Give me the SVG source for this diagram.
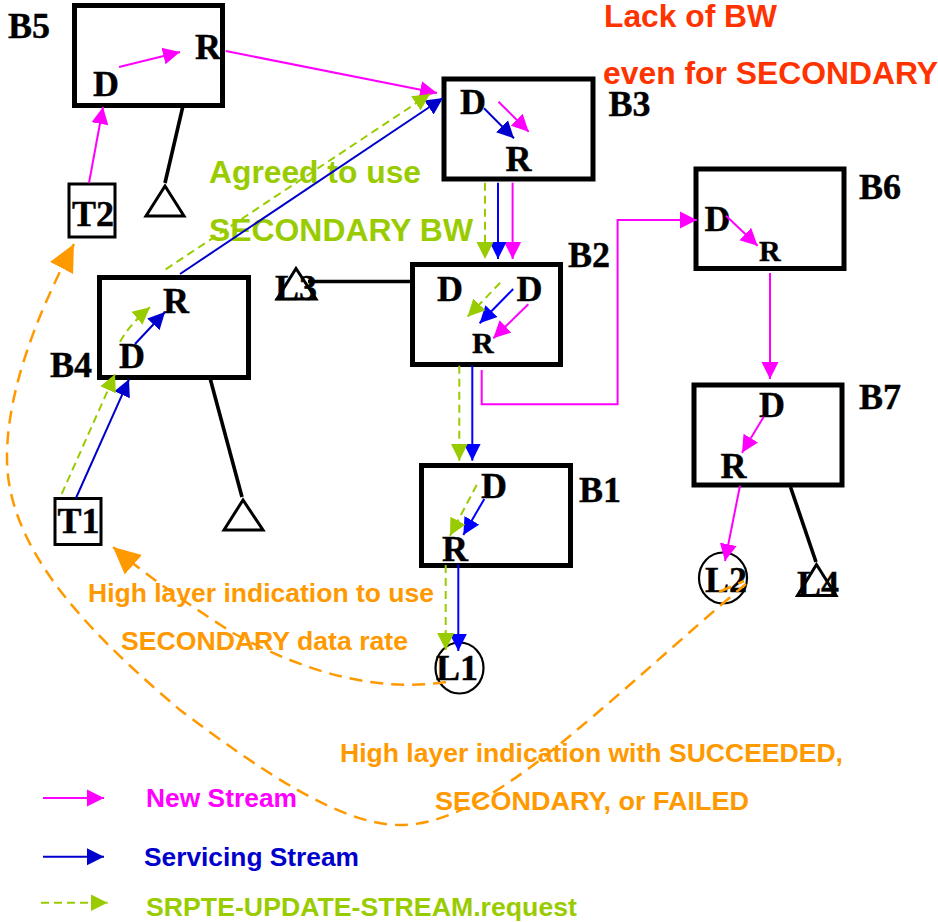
<svg xmlns="http://www.w3.org/2000/svg" width="938" height="922" viewBox="0 0 938 922">
<style>
.box{fill:#fff;stroke:#000;stroke-width:5}
.tbox{fill:#fff;stroke:#000;stroke-width:3}
.ring{fill:#fff;stroke:#000;stroke-width:2.2}
.stub{fill:none;stroke:#000;stroke-width:3.6}
.tri{fill:#fff;stroke:#000;stroke-width:3}
.n{font-family:"Liberation Serif","Times New Roman",serif;font-weight:bold;font-size:36px;fill:#000;stroke:#000;stroke-width:.4}
.s{font-size:30px}
.t{font-family:"Liberation Sans",Arial,sans-serif;font-weight:bold;font-size:26.500px}
.big{font-size:31px}
.c{fill:none;stroke-width:2}
.m{stroke:#f0f;marker-end:url(#am)}
.b{stroke:#00c;marker-end:url(#ab)}
.B{stroke:#00f;marker-end:url(#aB)}
.g{stroke:#9c0;stroke-dasharray:8 5;marker-end:url(#ag)}
.o{fill:none;stroke:#f90;stroke-width:2.500;stroke-dasharray:13 8}
</style>
<defs>
<marker id="am" markerUnits="userSpaceOnUse" markerWidth="18" markerHeight="18" refX="17" refY="9" orient="auto"><path d="M0,.5 L17,9 L0,17.500z" fill="#f0f"/></marker>
<marker id="ab" markerUnits="userSpaceOnUse" markerWidth="18" markerHeight="18" refX="17" refY="9" orient="auto"><path d="M0,.5 L17,9 L0,17.500z" fill="#00c"/></marker>
<marker id="aB" markerUnits="userSpaceOnUse" markerWidth="18" markerHeight="18" refX="17" refY="9" orient="auto"><path d="M0,.5 L17,9 L0,17.500z" fill="#00f"/></marker>
<marker id="ag" markerUnits="userSpaceOnUse" markerWidth="18" markerHeight="18" refX="17" refY="9" orient="auto"><path d="M0,.5 L17,9 L0,17.500z" fill="#9c0"/></marker>
<marker id="ao" markerUnits="userSpaceOnUse" markerWidth="28" markerHeight="28" refX="27" refY="14" orient="auto"><path d="M0,1 L27,14 L0,27z" fill="#f90"/></marker>
</defs>

<g id="labels">
<text class="t big" x="604" y="27" fill="#f30" textLength="173" lengthAdjust="spacingAndGlyphs">Lack of BW</text>
<text class="t big" x="603" y="84" fill="#f30" textLength="335" lengthAdjust="spacingAndGlyphs">even for SECONDARY</text>
<text class="t big" x="209" y="183" fill="#9c0" textLength="212" lengthAdjust="spacingAndGlyphs">Agreed to use</text>
<text class="t big" x="209" y="241" fill="#9c0" textLength="264" lengthAdjust="spacingAndGlyphs">SECONDARY BW</text>
<text class="t" x="88" y="602" fill="#f90" textLength="346" lengthAdjust="spacingAndGlyphs">High layer indication to use</text>
<text class="t" x="121" y="650" fill="#f90" textLength="287" lengthAdjust="spacingAndGlyphs">SECONDARY data rate</text>
<text class="t" x="340" y="762" fill="#f90" textLength="503" lengthAdjust="spacingAndGlyphs">High layer indication with SUCCEEDED,</text>
<text class="t" x="435" y="810" fill="#f90" textLength="314" lengthAdjust="spacingAndGlyphs">SECONDARY, or FAILED</text>
<text class="t" x="146" y="807" fill="#f0f" textLength="151" lengthAdjust="spacingAndGlyphs">New Stream</text>
<text class="t" x="144" y="866" fill="#00c" textLength="215" lengthAdjust="spacingAndGlyphs">Servicing Stream</text>
<text class="t" x="146" y="916" fill="#9c0" textLength="431" lengthAdjust="spacingAndGlyphs">SRPTE-UPDATE-STREAM.request</text>
</g>

<g id="B5"><rect class="box" x="74.500" y="5.500" width="148" height="100"/><text class="n" x="8" y="38">B5</text><text class="n" x="93" y="96">D</text><text class="n" x="195" y="59">R</text></g>
<g id="B3"><rect class="box" x="444" y="79" width="149" height="100"/><text class="n" x="608.500" y="116">B3</text><text class="n" x="460" y="114">D</text><text class="n" x="505.500" y="171">R</text></g>
<g id="B2"><rect class="box" x="412.500" y="264.500" width="148" height="100"/><text class="n" x="568" y="267">B2</text><text class="n" x="437" y="301">D</text><text class="n" x="516.500" y="301">D</text><text class="n s" x="472" y="353">R</text></g>
<g id="B6"><rect class="box" x="696" y="169" width="148" height="99.500"/><text class="n" x="859" y="199">B6</text><text class="n" x="704.500" y="231">D</text><text class="n s" x="759" y="261">R</text></g>
<g id="B7"><rect class="box" x="694" y="385" width="148" height="100"/><text class="n" x="859" y="409">B7</text><text class="n" x="759" y="417">D</text><text class="n" x="720.500" y="478">R</text></g>
<g id="B1"><rect class="box" x="421.500" y="465.500" width="149" height="100"/><text class="n" x="579" y="502">B1</text><text class="n" x="481" y="498">D</text><text class="n" x="442" y="561">R</text></g>
<g id="B4"><rect class="box" x="99.500" y="277.500" width="149" height="100"/><text class="n" x="50" y="377">B4</text><text class="n" x="119" y="368">D</text><text class="n" x="163" y="313">R</text></g>
<g id="T2"><rect class="tbox" x="69" y="184" width="46" height="53"/><text class="n" x="72" y="226">T2</text></g>
<g id="T1"><rect class="tbox" x="55" y="498.500" width="46" height="46"/><text class="n" x="57.500" y="533">T1</text></g>
<g id="L1"><ellipse class="ring" cx="459.500" cy="668" rx="24" ry="25.500"/><text class="n" x="436" y="680">L1</text></g>
<g id="L2"><ellipse class="ring" cx="723" cy="578" rx="24" ry="25.500"/><text class="n" x="705" y="592">L2</text></g>
<g id="L3"><text class="n" x="275" y="299.500">L3</text><path class="stub" d="M308,281.500H412"/><path class="tri" style="fill:none" d="M296,268.500L277,299H316z"/></g>
<g id="L4"><text class="n" x="797" y="596">L4</text><path class="stub" d="M790.500,487L816,562"/><path class="tri" style="fill:none" d="M816.500,564.500L797.500,595.500H836z"/></g>
<g id="U1"><path class="stub" d="M182.700,107L165,183"/><path class="tri" d="M165,186L146,216H184z"/></g>
<g id="U2"><path class="stub" d="M210,378L242,497"/><path class="tri" d="M243,500L224,530H263z"/></g>

<g id="connectors">
<path class="c m" d="M119,67L180,52"/>
<path class="c m" d="M225.700,51L437,93"/>
<path class="c m" d="M89,183L103,107"/>
<path class="c m" d="M498.500,101.700L528.700,131.700"/>
<path class="c m" d="M512.600,182.700V259"/>
<path class="c m" d="M528.300,304.300L493.300,338.300"/>
<path class="c m" d="M481.700,370V404.300H617.600V220H696.800"/>
<path class="c m" d="M726,215.700L757.600,245.700"/>
<path class="c m" d="M770,273V379"/>
<path class="c m" d="M763.800,416.700L742,452.700"/>
<path class="c m" d="M740,485.700L725,561"/>
<path class="c b" d="M180,274L443,98"/>
<path class="c b" d="M135,344L165,312"/>
<path class="c b" d="M76,498L129,379.300"/>
<path class="c b" d="M484,108.300L514,138.300"/>
<path class="c B" d="M498,182.700V259"/>
<path class="c B" d="M513.200,289L479.600,323.300"/>
<path class="c B" d="M472.300,365.700V460.700"/>
<path class="c B" d="M484.300,499L463.300,535"/>
<path class="c B" d="M458.300,564.300V651"/>
<path class="c g" d="M61.700,494L115,374.300"/>
<path class="c g" d="M120,341.700Q130,324 150,307.300"/>
<path class="c g" d="M165.700,269.300L430,94"/>
<path class="c g" d="M485,182.700V259"/>
<path class="c g" d="M500.200,282.700L467.600,316.700"/>
<path class="c g" d="M459.300,365.700V460.700"/>
<path class="c g" d="M476.700,485L450,535.700"/>
<path class="c g" d="M445.700,565V650"/>
<path class="o" style="marker-end:url(#ao)" d="M446,682C380,692 310,675 233,633C200,612 145,575 113,547"/>
<path class="o" d="M719,592L744,581"/>
<path class="o" style="marker-end:url(#ao)" d="M746,584C690,630 610,705 540,760C500,790 450,825 400,825C340,825 260,770 180,710C110,650 8,560 7,460C6,380 50,290 74,244"/>
<path class="c m" d="M43,798H104"/>
<path class="c b" d="M43,856.700H104"/>
<path class="c g" d="M41,902.700H107.500"/>
</g>
</svg>
